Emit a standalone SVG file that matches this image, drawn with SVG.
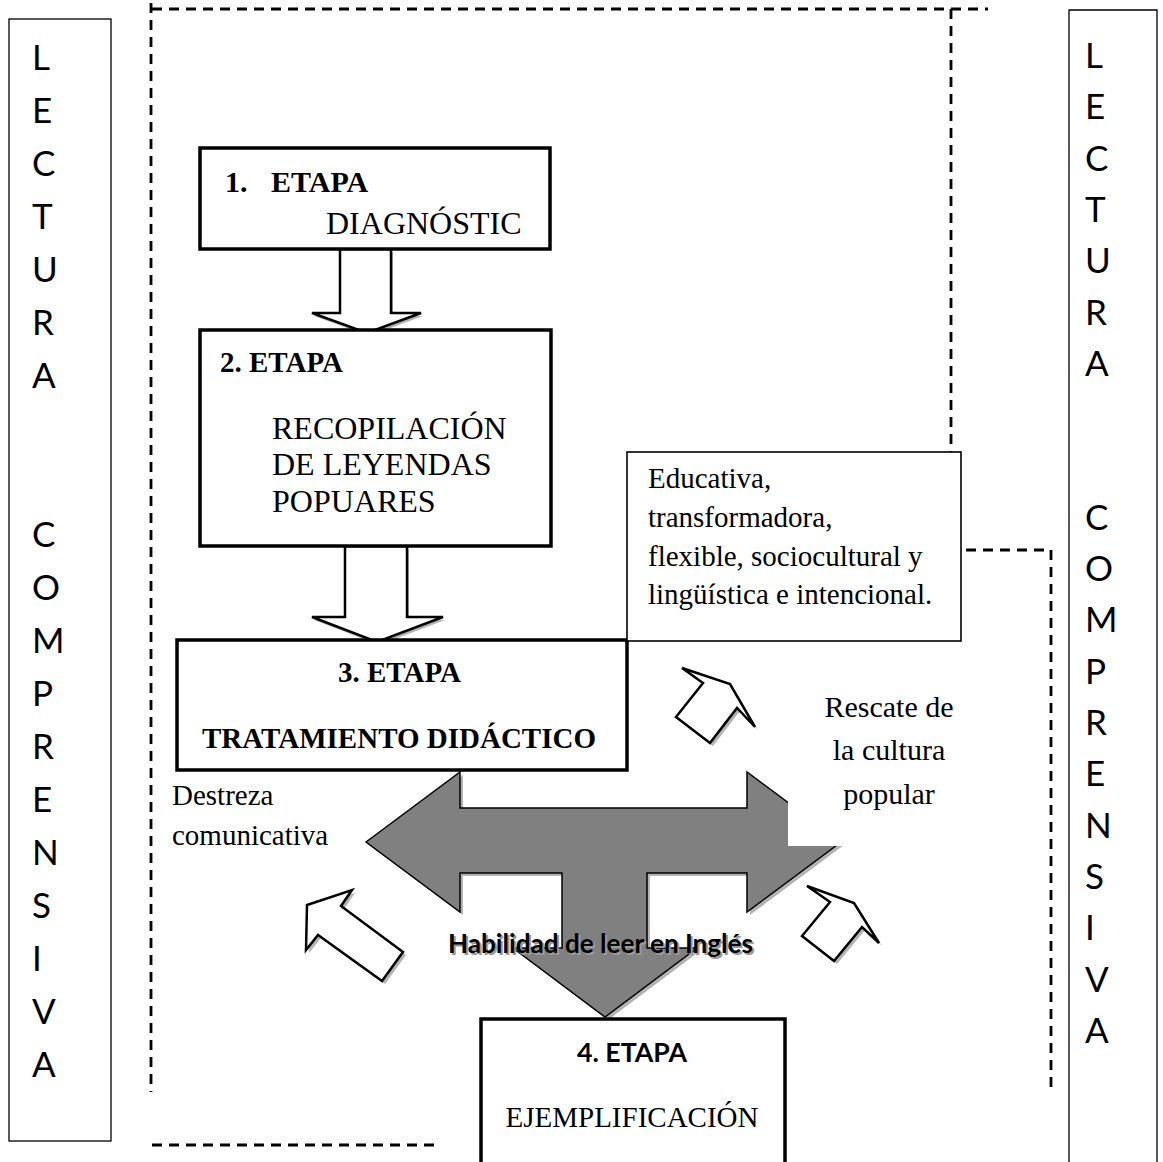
<svg xmlns="http://www.w3.org/2000/svg" width="1163" height="1162" viewBox="0 0 1163 1162">
<style>
.serif{font-family:"Liberation Serif","Times New Roman",serif;fill:#000}
.b{font-weight:bold}
.sans{font-family:Lato,"Liberation Sans",Arial,sans-serif;fill:#000}
.side{font-family:Lato,"Liberation Sans",Arial,sans-serif;font-size:35px;fill:#000}
.thick{fill:#fff;stroke:#000;stroke-width:3.5}
.dash{fill:none;stroke:#000;stroke-width:2.8;stroke-dasharray:10 7}
.warrow{fill:#fff;stroke:#000;stroke-width:2.5;stroke-linejoin:miter}
.shadow{fill:#b3b3b3;stroke:none}
</style>
<defs>
<polygon id="bigArrow" points="366,842 460,772 460,808 747,808 747,772 841,842 747,912 747,873 647,873 647,948 697,948 605,1017 513,948 562,948 562,873 460,873 460,912"/>
<polygon id="sa1" points="682,668 730,684 755,727 737,708 710,743 676,717 703,683"/>
<polygon id="sa2" points="807,886 854,903 879,943 862,927 834,961 802,936 830,902"/>
<polygon id="sa3" points="307,905 352,890 341,906 403,952 382,981 318,935 306,950"/>
<polygon id="da1" points="340,249 391,249 391,313 421,313 367,333 312,313 340,313"/>
<polygon id="da2" points="345,546 407,546 407,617 443,617 377,642 312,617 345,617"/>
</defs>

<g id="connectors">
  <path class="dash" d="M152,9 H988"/>
  <path class="dash" d="M151,3 V1092"/>
  <path class="dash" d="M951,9 V452"/>
  <path class="dash" d="M966,550 H1051 V1092"/>
  <path class="dash" d="M152,1145 H436"/>
  <use href="#da1" class="shadow" transform="translate(2,3)"/>
  <use href="#da1" class="warrow"/>
  <use href="#da2" class="shadow" transform="translate(2,3)"/>
  <use href="#da2" class="warrow"/>
</g>

<g id="lectura-left">
  <rect x="9" y="19" width="102" height="1122" fill="none" stroke="#000" stroke-width="1.3"/>
  <text class="side" x="32" y="70">L</text>
  <text class="side" x="32" y="123">E</text>
  <text class="side" x="32" y="176">C</text>
  <text class="side" x="32" y="229">T</text>
  <text class="side" x="32" y="282">U</text>
  <text class="side" x="32" y="335">R</text>
  <text class="side" x="32" y="388">A</text>
  <text class="side" x="32" y="547">C</text>
  <text class="side" x="32" y="600">O</text>
  <text class="side" x="32" y="653">M</text>
  <text class="side" x="32" y="706">P</text>
  <text class="side" x="32" y="759">R</text>
  <text class="side" x="32" y="812">E</text>
  <text class="side" x="32" y="865">N</text>
  <text class="side" x="32" y="918">S</text>
  <text class="side" x="32" y="971">I</text>
  <text class="side" x="32" y="1024">V</text>
  <text class="side" x="32" y="1077">A</text>
</g>

<g id="lectura-right">
  <path d="M1069,1162 V10 H1157 V1162" fill="none" stroke="#000" stroke-width="1.3"/>
  <text class="side" x="1085" y="68">L</text>
  <text class="side" x="1085" y="119">E</text>
  <text class="side" x="1085" y="171">C</text>
  <text class="side" x="1085" y="222">T</text>
  <text class="side" x="1085" y="273">U</text>
  <text class="side" x="1085" y="325">R</text>
  <text class="side" x="1085" y="376">A</text>
  <text class="side" x="1085" y="530">C</text>
  <text class="side" x="1085" y="581">O</text>
  <text class="side" x="1085" y="632">M</text>
  <text class="side" x="1085" y="684">P</text>
  <text class="side" x="1085" y="735">R</text>
  <text class="side" x="1085" y="786">E</text>
  <text class="side" x="1085" y="838">N</text>
  <text class="side" x="1085" y="889">S</text>
  <text class="side" x="1085" y="940">I</text>
  <text class="side" x="1085" y="992">V</text>
  <text class="side" x="1085" y="1043">A</text>
</g>

<g id="etapa1">
  <rect class="thick" x="200" y="148" width="350" height="101"/>
  <text class="serif b" x="225" y="192" font-size="30">1.</text>
  <text class="serif b" x="271" y="192" font-size="30">ETAPA</text>
  <text class="serif" x="326" y="234" font-size="32">DIAGNÓSTIC</text>
</g>

<g id="etapa2">
  <rect class="thick" x="200" y="330" width="351" height="216"/>
  <text class="serif b" x="220" y="372" font-size="29">2. ETAPA</text>
  <text class="serif" x="272" y="439" font-size="32">RECOPILACIÓN</text>
  <text class="serif" x="272" y="475" font-size="32">DE LEYENDAS</text>
  <text class="serif" x="272" y="512" font-size="32">POPUARES</text>
</g>

<g id="big-arrow">
  <use href="#bigArrow" class="shadow" transform="translate(3,3)"/>
  <use href="#bigArrow" fill="#808080" stroke="#000" stroke-width="1.5" stroke-linejoin="miter"/>
</g>

<g id="etapa3">
  <rect class="thick" x="177" y="640" width="450" height="130"/>
  <text class="serif b" x="338" y="682" font-size="29">3. ETAPA</text>
  <text class="serif b" x="202" y="748" font-size="29">TRATAMIENTO DIDÁCTICO</text>
</g>

<g id="rescate">
  <rect x="788" y="680" width="210" height="166" fill="#fff"/>
  <text class="serif" x="889" y="717" font-size="30" text-anchor="middle">Rescate de</text>
  <text class="serif" x="889" y="760" font-size="30" text-anchor="middle">la cultura</text>
  <text class="serif" x="889" y="804" font-size="30" text-anchor="middle">popular</text>
</g>

<g id="caracteristicas">
  <rect x="627" y="452" width="334" height="189" fill="#fff" stroke="#000" stroke-width="1.6"/>
  <text class="serif" x="648" y="488" font-size="29">Educativa,</text>
  <text class="serif" x="648" y="527" font-size="29">transformadora,</text>
  <text class="serif" x="648" y="566" font-size="29">flexible, sociocultural y</text>
  <text class="serif" x="648" y="604" font-size="29">lingüística e intencional.</text>
</g>

<g id="destreza">
  <text class="serif" x="172" y="805" font-size="29">Destreza</text>
  <text class="serif" x="172" y="845" font-size="29">comunicativa</text>
</g>

<g id="small-arrows">
  <use href="#sa1" class="shadow" transform="translate(3,3)"/>
  <use href="#sa1" class="warrow"/>
  <use href="#sa2" class="shadow" transform="translate(3,3)"/>
  <use href="#sa2" class="warrow"/>
  <use href="#sa3" class="shadow" transform="translate(3,3)"/>
  <use href="#sa3" class="warrow"/>
</g>

<g id="habilidad">
  <text class="sans b" x="450" y="955" font-size="27" style="fill:#9a9a9a" textLength="305" lengthAdjust="spacingAndGlyphs">Habilidad de leer en Inglés</text>
  <text class="sans b" x="448" y="953" font-size="27" textLength="305" lengthAdjust="spacingAndGlyphs">Habilidad de leer en Inglés</text>
</g>

<g id="etapa4">
  <rect class="thick" x="481" y="1019" width="304" height="160"/>
  <text class="sans b" x="632" y="1062" font-size="26" text-anchor="middle" textLength="110" lengthAdjust="spacingAndGlyphs">4. ETAPA</text>
  <text class="serif" x="632" y="1127" font-size="29" text-anchor="middle">EJEMPLIFICACIÓN</text>
</g>
</svg>
